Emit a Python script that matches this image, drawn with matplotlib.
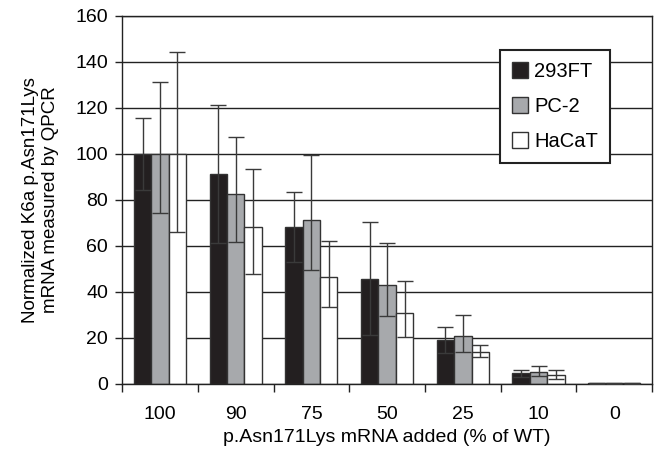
import numpy as np
import matplotlib
matplotlib.use('Agg')
import matplotlib.pyplot as plt

plt.rcParams['font.family'] = ['Liberation Sans', 'DejaVu Sans']

groups = ['100', '90', '75', '50', '25', '10', '0']
series = ['293FT', 'PC-2', 'HaCaT']

# bar heights
v_293ft = [100, 91.2, 68.3, 45.7, 19.1, 4.6, 0.2]
v_pc2 = [100, 82.5, 71.3, 42.9, 20.9, 5.1, 0.2]
v_hacat = [100, 68.0, 46.4, 30.7, 13.8, 3.8, 0.2]

# error bar ends (upper, lower)
up_293ft = [115.6, 121.3, 83.5, 70.3, 24.9, 6.1, 0.4]
lo_293ft = [84.4, 61.1, 53.1, 21.1, 13.3, 3.1, 0.0]
up_pc2 = [131.0, 107.5, 99.6, 61.0, 30.0, 7.7, 0.4]
lo_pc2 = [74.3, 61.7, 49.3, 29.3, 13.8, 3.2, 0.0]
up_hacat = [144.2, 93.6, 61.9, 44.8, 16.7, 5.8, 0.4]
lo_hacat = [65.8, 47.8, 33.6, 20.3, 11.6, 2.2, 0.0]

fig = plt.figure(figsize=(6.6, 4.51), dpi=100)
ax = fig.add_axes([0.185, 0.149, 0.803, 0.816])

x = np.arange(len(groups))
w = 0.23
colors = ['#231f20', '#a7a9ac', '#ffffff']
vals = [v_293ft, v_pc2, v_hacat]
ups = [up_293ft, up_pc2, up_hacat]
los = [lo_293ft, lo_pc2, lo_hacat]

for i in range(3):
    v = np.array(vals[i])
    err = [v - np.array(los[i]), np.array(ups[i]) - v]
    ax.bar(x + (i - 1) * w, v, w, color=colors[i], edgecolor='#333333', linewidth=1.0,
           label=series[i], zorder=2)
    ax.errorbar(x + (i - 1) * w, v, yerr=err, fmt='none', ecolor='#3a3a3a',
                elinewidth=1.0, capsize=6, capthick=1.0, zorder=3)

ax.set_xlim(-0.5, len(groups) - 0.5)
ax.set_ylim(0, 160)
ax.set_yticks(np.arange(0, 161, 20))
ax.yaxis.grid(True, color='#222222', linewidth=1.0, zorder=0)
ax.set_axisbelow(True)
ax.set_xticks(x)
ax.set_xticklabels(groups)
ax.set_xticks(np.arange(-0.5, len(groups), 1), minor=True)
ax.tick_params(axis='x', which='major', length=0, pad=16)
ax.tick_params(axis='x', which='minor', length=6, width=1.0, color='#222222')
ax.tick_params(axis='y', length=5, width=1.0, color='#222222', pad=5)
ax.tick_params(labelsize=14)
for s in ax.spines.values():
    s.set_color('#222222')
    s.set_linewidth(1.0)

ax.set_xlabel('p.Asn171Lys mRNA added (% of WT)', fontsize=14, labelpad=4)
ax.set_ylabel('Normalized K6a p.Asn171Lys\nmRNA measured by QPCR', fontsize=13.5, labelpad=12)

leg = ax.legend(loc='upper right', bbox_to_anchor=(0.94, 0.935), fontsize=14.5,
                fancybox=False, framealpha=1, edgecolor='#222222',
                handlelength=0.8, handleheight=0.8, handletextpad=0.3,
                labelspacing=0.8, borderpad=0.6)
leg.get_frame().set_linewidth(1.5)

fig.savefig('out.png', dpi=100)
